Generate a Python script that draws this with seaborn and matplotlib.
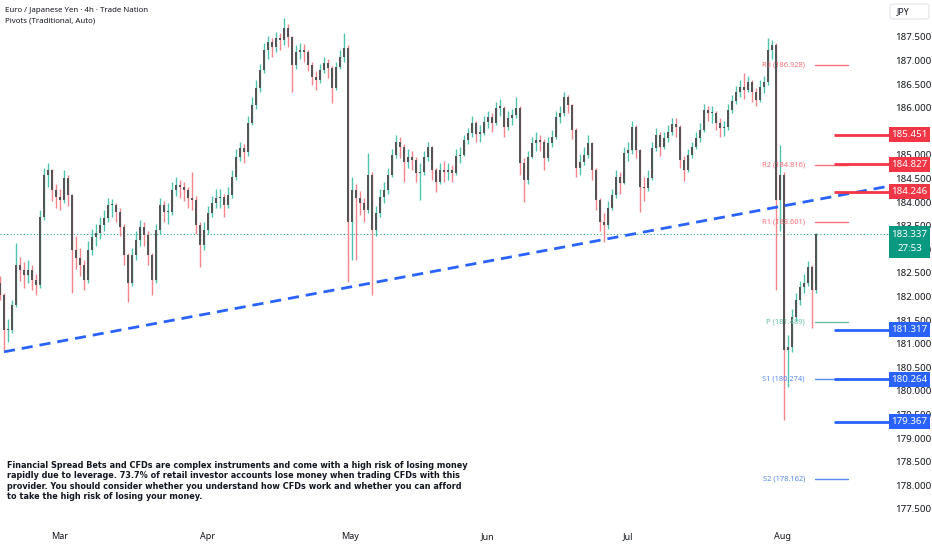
import matplotlib
matplotlib.use("Agg")
import matplotlib.pyplot as plt
import matplotlib.transforms as mtransforms
from matplotlib.patches import Rectangle, FancyBboxPatch
import seaborn as sns

# 4h candles, open = previous close
first_open = 182.30
closes = [
    182.06, 181.31, 181.31, 181.84, 182.69, 182.58, 182.48, 182.58, 182.37, 182.27,
    183.71, 184.60, 184.70, 184.28, 184.13, 184.07, 184.53, 184.17, 183.01, 182.84,
    182.69, 182.37, 183.01, 183.28, 183.37, 183.54, 183.69, 183.96, 183.96, 183.81,
    183.50, 182.90, 182.31, 182.90, 183.22, 183.50, 183.33, 182.90, 182.37, 183.43,
    183.96, 183.81, 183.81, 184.28, 184.39, 184.34, 184.28, 184.11, 184.07, 183.54,
    183.11, 183.43, 183.79, 184.00, 184.11, 184.13, 183.96, 184.17, 184.56, 184.98,
    185.17, 185.08, 185.70, 186.08, 186.44, 186.82, 187.25, 187.42, 187.31, 187.50,
    187.46, 187.71, 187.52, 186.93, 187.20, 187.25, 187.20, 186.93, 186.67, 186.61,
    186.82, 186.97, 186.86, 186.44, 186.89, 187.10, 187.29, 183.60, 184.28, 184.11,
    184.00, 183.86, 184.60, 183.43, 183.79, 184.13, 184.28, 184.60, 185.02, 185.30,
    185.19, 184.87, 184.98, 184.92, 184.64, 184.66, 184.98, 185.19, 184.70, 184.45,
    184.70, 184.66, 184.70, 184.64, 185.00, 185.02, 185.34, 185.49, 185.70, 185.47,
    185.49, 185.72, 185.83, 185.70, 186.02, 186.02, 185.61, 185.81, 185.87, 186.02,
    184.85, 184.49, 184.98, 185.28, 185.34, 185.30, 184.96, 185.28, 185.40, 185.83,
    185.91, 186.25, 186.08, 185.55, 184.75, 184.87, 185.02, 185.28, 184.70, 184.07,
    183.60, 183.54, 183.90, 184.17, 184.56, 184.43, 185.06, 185.13, 185.61, 185.13,
    184.34, 184.32, 184.53, 185.17, 185.45, 185.19, 185.38, 185.51, 185.68, 185.61,
    184.92, 184.70, 185.02, 185.19, 185.38, 185.55, 185.97, 185.91, 185.91, 185.70,
    185.59, 185.61, 185.97, 186.17, 186.36, 186.46, 186.40, 186.57, 186.36, 186.19,
    186.46, 186.57, 187.25, 187.35, 184.07, 184.60, 180.89, 180.95, 181.59, 181.95,
    182.22, 182.31, 182.65, 182.16, 183.337,
]
highs = [
    182.45, 182.10, 181.55, 181.95, 183.16, 182.85, 182.75, 182.80, 182.70, 182.50,
    183.85, 184.75, 184.85, 184.72, 184.40, 184.30, 184.70, 184.60, 184.20, 183.30,
    183.05, 182.80, 183.20, 183.45, 183.55, 183.70, 183.85, 184.10, 184.08, 184.00,
    183.90, 183.55, 182.95, 183.05, 183.40, 183.65, 183.60, 183.40, 182.95, 183.55,
    184.10, 184.05, 184.00, 184.45, 184.55, 184.50, 184.45, 184.35, 184.66, 184.15,
    183.60, 183.60, 183.95, 184.15, 184.30, 184.30, 184.20, 184.35, 184.70, 185.15,
    185.30, 185.25, 185.85, 186.25, 186.60, 186.95, 187.40, 187.55, 187.50, 187.62,
    187.60, 187.92, 187.80, 187.55, 187.35, 187.40, 187.38, 187.25, 187.00, 186.80,
    186.95, 187.10, 187.05, 186.90, 187.00, 187.25, 187.61, 187.35, 184.55, 184.40,
    184.25, 184.10, 185.06, 184.65, 183.95, 184.30, 184.45, 184.75, 185.15, 185.45,
    185.40, 185.25, 185.15, 185.10, 184.98, 184.85, 185.10, 185.30, 185.22, 184.75,
    184.85, 184.90, 184.85, 184.80, 185.15, 185.20, 185.45, 185.60, 185.85, 185.75,
    185.65, 185.85, 185.95, 185.90, 186.15, 186.20, 186.05, 185.95, 186.00, 186.25,
    186.05, 184.95, 185.10, 185.40, 185.50, 185.45, 185.35, 185.40, 185.55, 185.95,
    186.05, 186.35, 186.30, 186.10, 185.60, 185.05, 185.20, 185.45, 185.30, 184.75,
    184.10, 183.80, 184.05, 184.30, 184.70, 184.65, 185.20, 185.30, 185.75, 185.65,
    185.15, 184.55, 184.70, 185.30, 185.60, 185.50, 185.50, 185.65, 185.80, 185.80,
    185.65, 185.00, 185.15, 185.30, 185.50, 185.70, 186.10, 186.05, 186.05, 185.95,
    185.80, 185.75, 186.10, 186.30, 186.48, 186.60, 186.76, 186.70, 186.62, 186.45,
    186.60, 186.70, 187.50, 187.45, 187.40, 185.23, 184.65, 181.20, 181.75, 182.10,
    182.35, 182.50, 182.78, 182.70, 183.37,
]
lows = [
    181.95, 180.89, 181.05, 181.25, 181.80, 182.35, 182.20, 182.30, 182.15, 182.05,
    182.20, 183.65, 184.35, 184.05, 183.90, 183.85, 184.00, 183.95, 182.10, 182.60,
    182.45, 182.15, 182.30, 182.90, 183.10, 183.25, 183.40, 183.60, 183.70, 183.60,
    183.30, 182.70, 181.90, 182.25, 182.80, 183.10, 183.10, 182.70, 182.05, 182.30,
    183.35, 183.60, 183.55, 183.75, 184.15, 184.10, 184.05, 183.90, 183.85, 183.35,
    182.65, 183.00, 183.35, 183.70, 183.90, 183.90, 183.71, 183.90, 184.10, 184.50,
    184.90, 184.85, 185.00, 185.65, 186.00, 186.35, 186.75, 187.05, 187.10, 187.20,
    187.25, 187.35, 187.30, 186.36, 186.85, 187.05, 187.00, 186.80, 186.50, 186.40,
    186.55, 186.75, 186.65, 186.12, 186.40, 186.85, 187.00, 182.33, 182.80, 182.80,
    183.75, 183.60, 183.80, 182.06, 183.30, 183.70, 184.00, 184.20, 184.55, 184.95,
    184.95, 184.45, 184.75, 184.70, 184.45, 184.07, 184.60, 184.90, 184.50, 184.24,
    184.40, 184.45, 184.50, 184.45, 184.60, 184.85, 185.00, 185.25, 185.40, 185.30,
    185.30, 185.45, 185.60, 185.50, 185.65, 185.85, 185.40, 185.55, 185.65, 185.80,
    184.60, 184.03, 184.40, 184.95, 185.10, 185.10, 184.70, 184.90, 185.20, 185.35,
    185.70, 185.85, 185.90, 185.35, 184.55, 184.60, 184.80, 184.95, 184.50, 183.85,
    183.40, 183.18, 183.45, 183.85, 184.10, 184.20, 184.40, 184.90, 185.05, 184.95,
    183.81, 184.05, 184.25, 184.50, 185.10, 185.00, 185.15, 185.30, 185.45, 185.40,
    184.75, 184.48, 184.65, 184.95, 185.15, 185.30, 185.50, 185.75, 185.70, 185.55,
    185.40, 185.42, 185.55, 185.90, 186.10, 186.25, 186.20, 186.35, 186.15, 186.05,
    186.15, 186.33, 186.50, 187.05, 182.16, 183.40, 179.41, 180.10, 180.85, 181.50,
    181.85, 182.10, 182.25, 181.36, 182.10,
]

month_labels = ["Mar", "Apr", "May", "Jun", "Jul", "Aug"]
month_pos = [15, 52, 87.5, 122, 157, 195.5]

# 185.500 sits fully under the 185.451 box in the reference, so it is left out
price_ticks = [177.5, 178.0, 178.5, 179.0, 179.5, 180.0, 180.5, 181.0, 181.5,
               182.0, 182.5, 183.0, 183.5, 184.0, 184.5, 185.0, 186.0,
               186.5, 187.0, 187.5]

pivot_names = ["R3", "R2", "R1", "P", "S1", "S2"]
pivot_vals = [186.928, 184.816, 183.601, 181.489, 180.274, 178.162]
pivot_colors = ["#f7727a", "#f7727a", "#f7727a", "#66bfa5", "#5a8af0", "#5a8af0"]

red_levels = [185.451, 184.827, 184.246]
blue_levels = [181.317, 180.264, 179.367]

trend_x = [1, 215]
trend_y = [180.85, 184.246]

last_price = 183.337
countdown = "27:53"

disclaimer = ("Financial Spread Bets and CFDs are complex instruments and come with a high risk of losing money\n"
              "rapidly due to leverage. 73.7% of retail investor accounts lose money when trading CFDs with this\n"
              "provider. You should consider whether you understand how CFDs work and whether you can afford\n"
              "to take the high risk of losing your money.")

sns.set_theme(style="white")
plt.rcParams['font.family'] = ['Noto Sans', 'DejaVu Sans']

W, H = 932, 550
fig = plt.figure(figsize=(9.32, 5.5), dpi=100)
ax = fig.add_axes([0, 25 / H, 860 / W, 525 / H])
ax.set_xlim(0, 215)
ax.set_ylim(177.18, 188.305)
for s in ax.spines.values():
    s.set_visible(False)

up_c = "#4fc3ae"
dn_c = "#f2848c"
body_c = "#555555"
opens = [first_open] + closes[:-1]
for i, (o, h, l, c) in enumerate(zip(opens, highs, lows, closes)):
    col = up_c if c >= o else dn_c
    ax.vlines(i, l, h, color=col, lw=1.0, zorder=2)
    ax.bar(i, max(abs(c - o), 0.03), bottom=min(o, c), width=0.65,
           color=body_c, edgecolor="none", zorder=3)

# trend line, extended to the price scale box
box_left = 889 / 860  # in axes fraction
slope = (trend_y[1] - trend_y[0]) / (trend_x[1] - trend_x[0])
x_end = 215 * box_left
tx = [trend_x[0], x_end]
ty = [trend_y[0], trend_y[0] + slope * (x_end - trend_x[0])]
sns.lineplot(x=tx, y=ty, ax=ax, color="#2962ff", lw=2, zorder=4)
ax.lines[-1].set_linestyle((0, (4, 2.5)))
ax.lines[-1].set_clip_on(False)

ax_tr = mtransforms.blended_transform_factory(ax.transAxes, ax.transData)

# last price dotted line
ax.plot([0, box_left], [last_price, last_price], color="#22ab94", lw=0.8,
        ls=(0, (1, 2)), zorder=1, transform=ax_tr, clip_on=False)

# pivot levels
for name, v, col in zip(pivot_names, pivot_vals, pivot_colors):
    ax.plot([815 / 860, 848 / 860], [v, v], color=col, lw=1, zorder=4, transform=ax_tr)
    ax.text(805 / 860, v, f"{name} ({v:.3f})", transform=ax_tr, ha="right",
            va="center", fontsize=5.4, color=col, zorder=5)

for v in red_levels:
    ax.plot([834 / 860, box_left], [v, v], color="#f23645", lw=2, zorder=4,
            transform=ax_tr, clip_on=False, solid_capstyle="butt")
for v in blue_levels:
    ax.plot([834 / 860, box_left], [v, v], color="#2962ff", lw=2, zorder=4,
            transform=ax_tr, clip_on=False, solid_capstyle="butt")

ax.set_xticks(month_pos)
ax.set_xticklabels(month_labels, fontsize=6.5, fontweight="bold", color="#131722")
ax.tick_params(axis="x", length=0, pad=5)
ax.set_yticks([])

# right price scale
tr = mtransforms.blended_transform_factory(fig.transFigure, ax.transData)
for t in price_ticks:
    ax.text(913 / W, t, f"{t:.3f}", transform=tr, ha="center", va="center",
            fontsize=7, color="#131722", fontweight="bold" if t == int(t) else "normal",
            clip_on=False, zorder=6)

px = (188.305 - 177.18) / 525  # price units per pixel
box_h = 15 * px


def price_box(v, color, top=None, bottom=None):
    top = v + box_h / 2 if top is None else top
    bottom = v - box_h / 2 if bottom is None else bottom
    ax.add_patch(Rectangle((889 / W, bottom), 41 / W, top - bottom, transform=tr,
                           fc=color, ec="none", clip_on=False, zorder=7))


for v in red_levels:
    price_box(v, "#f23645")
    ax.text(909.5 / W, v, f"{v:.3f}", transform=tr, ha="center", va="center",
            fontsize=7, color="white", clip_on=False, zorder=8)
for v in blue_levels:
    price_box(v, "#2962ff")
    ax.text(909.5 / W, v, f"{v:.3f}", transform=tr, ha="center", va="center",
            fontsize=7, color="white", clip_on=False, zorder=8)

price_box(last_price, "#089981", top=last_price + 8 * px, bottom=last_price - 24 * px)
ax.text(909.5 / W, last_price, f"{last_price:.3f}", transform=tr, ha="center",
        va="center", fontsize=7, color="white", clip_on=False, zorder=8)
ax.text(909.5 / W, last_price - 14 * px, countdown, transform=tr, ha="center",
        va="center", fontsize=7, color="white", clip_on=False, zorder=8)

fig.patches.append(FancyBboxPatch((890 / W, 1 - 19 / H), 39 / W, 15 / H,
                                  boxstyle="round,pad=0,rounding_size=0.004",
                                  transform=fig.transFigure, fc="white",
                                  ec="#e0e3eb", lw=0.8))
fig.text(903 / W, 1 - 11.5 / H, "JPY", ha="center", va="center", fontsize=6.3,
         color="#131722")

fig.text(5 / W, 1 - 10 / H, "Euro / Japanese Yen · 4h · Trade Nation", fontsize=5.7,
         fontweight="bold", color="#131722", va="center")
fig.text(5 / W, 1 - 21 / H, "Pivots (Traditional, Auto)", fontsize=5.7,
         color="#131722", va="center")
fig.text(7 / W, 1 - 461 / H, disclaimer, fontsize=5.85, fontweight="bold",
         color="#131722", va="top", family=["DejaVu Sans"], linespacing=1.2)

fig.savefig("out.png", dpi=100, facecolor="white")
